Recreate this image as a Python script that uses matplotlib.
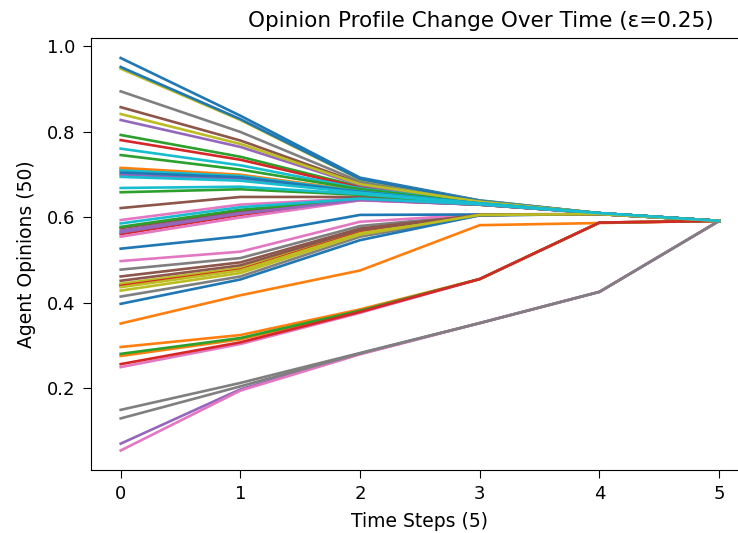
import matplotlib
matplotlib.use("Agg")
import matplotlib.pyplot as plt

time_steps = [0, 1, 2, 3, 4, 5]

# Opinions of the 50 agents at each time step (agent order = colour-cycle order)
op_t0 = [0.973, 0.716, 0.793, 0.781, 0.828, 0.858, 0.594, 0.895, 0.948, 0.761,
         0.952, 0.713, 0.746, 0.561, 0.700, 0.622, 0.555, 0.478, 0.842, 0.710,
         0.705, 0.352, 0.659, 0.443, 0.569, 0.575, 0.498, 0.415, 0.445, 0.695,
         0.527, 0.297, 0.578, 0.440, 0.565, 0.462, 0.250, 0.150, 0.437, 0.669,
         0.398, 0.276, 0.281, 0.257, 0.071, 0.452, 0.055, 0.130, 0.429, 0.586]
op_t1 = [0.838, 0.700, 0.742, 0.735, 0.765, 0.780, 0.630, 0.800, 0.828, 0.722,
         0.830, 0.698, 0.712, 0.606, 0.690, 0.648, 0.600, 0.505, 0.772, 0.697,
         0.694, 0.418, 0.666, 0.480, 0.612, 0.616, 0.520, 0.462, 0.482, 0.686,
         0.556, 0.325, 0.618, 0.478, 0.609, 0.495, 0.304, 0.213, 0.476, 0.672,
         0.455, 0.315, 0.318, 0.308, 0.198, 0.488, 0.195, 0.205, 0.470, 0.624]
op_t2 = [0.693, 0.662, 0.672, 0.670, 0.676, 0.680, 0.645, 0.684, 0.689, 0.668,
         0.690, 0.662, 0.666, 0.641, 0.659, 0.648, 0.640, 0.580, 0.678, 0.661,
         0.660, 0.476, 0.653, 0.566, 0.642, 0.643, 0.590, 0.555, 0.568, 0.658,
         0.606, 0.385, 0.643, 0.565, 0.641, 0.574, 0.377, 0.283, 0.563, 0.655,
         0.547, 0.381, 0.382, 0.379, 0.281, 0.571, 0.280, 0.282, 0.560, 0.644]
op_t3 = [0.640, 0.634, 0.636, 0.635, 0.636, 0.637, 0.631, 0.638, 0.639, 0.635,
         0.639, 0.634, 0.634, 0.630, 0.633, 0.631, 0.630, 0.606, 0.637, 0.633,
         0.633, 0.582, 0.632, 0.606, 0.630, 0.630, 0.607, 0.605, 0.606, 0.633,
         0.607, 0.456, 0.630, 0.606, 0.630, 0.606, 0.456, 0.353, 0.606, 0.632,
         0.605, 0.456, 0.456, 0.456, 0.353, 0.606, 0.353, 0.353, 0.606, 0.631]
op_t4 = [0.610, 0.610, 0.610, 0.610, 0.610, 0.610, 0.610, 0.610, 0.610, 0.610,
         0.610, 0.610, 0.610, 0.610, 0.610, 0.610, 0.610, 0.608, 0.610, 0.610,
         0.610, 0.587, 0.610, 0.608, 0.610, 0.610, 0.608, 0.608, 0.608, 0.610,
         0.608, 0.588, 0.610, 0.608, 0.610, 0.608, 0.588, 0.426, 0.608, 0.610,
         0.608, 0.588, 0.588, 0.588, 0.426, 0.608, 0.426, 0.426, 0.608, 0.610]
op_t5 = [0.592] * 50

title_text = "Opinion Profile Change Over Time (\u03b5=0.25)"
x_label = "Time Steps (5)"
y_label = "Agent Opinions (50)"

fig = plt.figure(figsize=(7.38, 5.33), dpi=100)
ax = fig.add_axes([0.123, 0.118, 0.892, 0.81])

steps = [op_t0, op_t1, op_t2, op_t3, op_t4, op_t5]
for i in range(len(op_t0)):
    ax.plot(time_steps, [s[i] for s in steps], lw=1.9)

ax.set_title(title_text, fontsize=15.5, x=0.593, pad=8)
ax.set_xlabel(x_label, fontsize=13.5, labelpad=6)
ax.set_ylabel(y_label, fontsize=13.5, labelpad=8)
ax.set_xticks(time_steps)
ax.set_yticks([0.2, 0.4, 0.6, 0.8, 1.0])
ax.tick_params(labelsize=13, length=6, pad=5)
ax.spines['right'].set_visible(False)

fig.savefig("out.png", dpi=100)
